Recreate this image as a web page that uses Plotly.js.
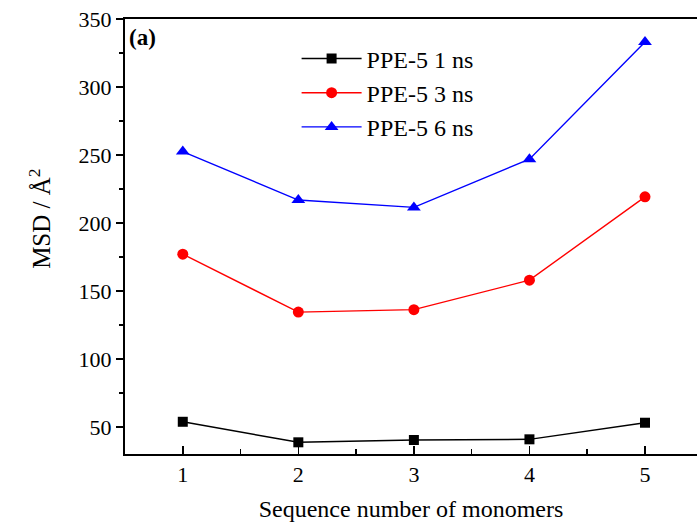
<!DOCTYPE html>
<html>
<head>
<meta charset="utf-8">
<script src="https://cdn.plot.ly/plotly-3.0.1.min.js"></script>
<style>
  html, body { margin: 0; padding: 0; background: #fff; overflow: hidden; }
  #chart { width: 697px; height: 524px; }
</style>
</head>
<body>
<div id="chart"></div>
<script>
// Sequence positions of the monomers
const monomers = [1, 2, 3, 4, 5];

// Mean square displacement (Å²) at each simulation time
const msd1ns = [53.7, 38.6, 40.3, 40.8, 53.0];
const msd3ns = [177.0, 134.4, 136.2, 157.9, 219.2];
const msd6ns = [252.5, 216.8, 211.4, 246.9, 333.0];

const seriesNames = ['PPE-5 1 ns', 'PPE-5 3 ns', 'PPE-5 6 ns'];

const serif = 'Liberation Serif, Times New Roman, serif';

const traces = [
  {
    x: monomers, y: msd1ns, name: seriesNames[0], mode: 'lines+markers',
    line: {color: '#000000', width: 1.4},
    marker: {symbol: 'square', size: 10, color: '#000000'}
  },
  {
    x: monomers, y: msd3ns, name: seriesNames[1], mode: 'lines+markers',
    line: {color: '#ff0000', width: 1.4},
    marker: {symbol: 'circle', size: 11, color: '#ff0000'}
  },
  {
    x: monomers, y: msd6ns, name: seriesNames[2], mode: 'lines+markers',
    line: {color: '#0000ff', width: 1.4},
    marker: {symbol: 'triangle-up', size: 12, color: '#0000ff'}
  }
];

const layout = {
  width: 697,
  height: 524,
  margin: {l: 125, r: 0, t: 19, b: 70},
  paper_bgcolor: '#ffffff',
  plot_bgcolor: '#ffffff',
  font: {family: serif, color: '#000000', size: 22},
  showlegend: true,
  legend: {
    x: 0.3, y: 0.96, xanchor: 'left', yanchor: 'top',
    bgcolor: 'rgba(0,0,0,0)', borderwidth: 0,
    font: {family: serif, size: 24, color: '#000000'},
    itemwidth: 60, tracegroupgap: 0
  },
  xaxis: {
    range: [0.5, 5.45],
    tickvals: monomers,
    ticks: 'inside', ticklen: 8, tickwidth: 1.5, tickcolor: '#000',
    minor: {dtick: 0.5, tick0: 0.5, ticks: 'inside', ticklen: 5, tickwidth: 1.5, tickcolor: '#000'},
    showline: true, linecolor: '#000', linewidth: 2, mirror: true,
    showgrid: false, zeroline: false,
    tickfont: {family: serif, size: 22},
    title: {text: 'Sequence number of monomers', font: {family: serif, size: 24}, standoff: 14}
  },
  yaxis: {
    range: [30, 350],
    tick0: 50, dtick: 50,
    ticks: 'outside', ticklen: 7, tickwidth: 1.5, tickcolor: '#000',
    minor: {dtick: 25, tick0: 25, ticks: 'outside', ticklen: 4, tickwidth: 1.5, tickcolor: '#000'},
    showline: true, linecolor: '#000', linewidth: 2,
    showgrid: false, zeroline: false,
    tickfont: {family: serif, size: 22}
  },
  annotations: [
    {
      // vertical axis title
      text: 'MSD / Å<sup>2</sup>', xref: 'paper', yref: 'paper',
      x: -0.149, y: 0.54, xanchor: 'center', yanchor: 'middle',
      textangle: -90, showarrow: false,
      font: {family: serif, size: 25, color: '#000'}
    },
    {
      text: '<b>(a)</b>', xref: 'paper', yref: 'paper', x: 0.003, y: 0.99,
      xanchor: 'left', yanchor: 'top', showarrow: false,
      font: {family: serif, size: 23, color: '#000'}
    }
  ]
};

Plotly.newPlot('chart', traces, layout, {displayModeBar: false, staticPlot: true});
</script>
</body>
</html>
